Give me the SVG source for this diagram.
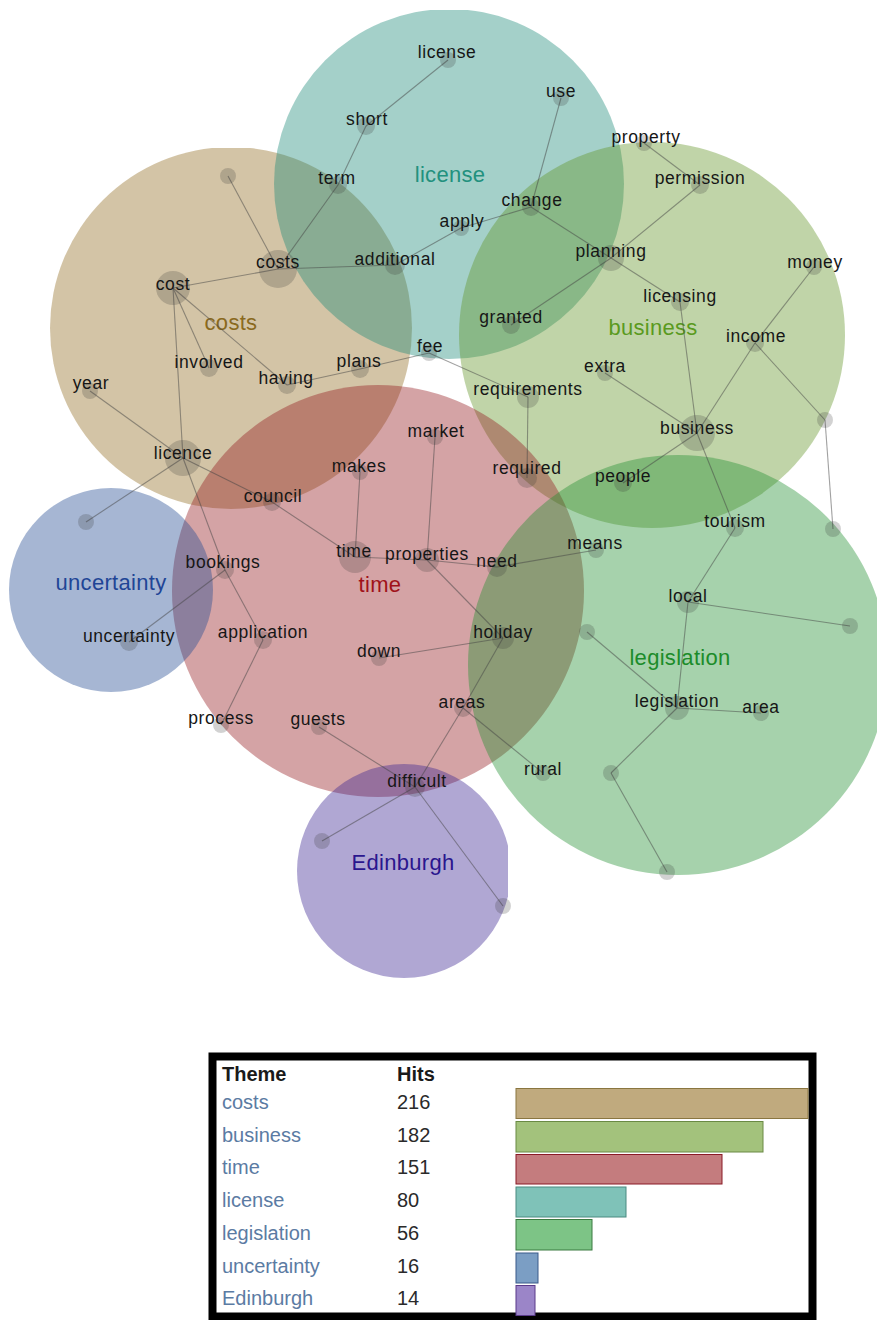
<svg xmlns="http://www.w3.org/2000/svg" width="877" height="1320" viewBox="0 0 877 1320">
<style>
.th{opacity:0.4}
.nd{fill:#333;opacity:0.22}
.lb{font-family:"Liberation Sans",Arial,sans-serif;font-size:17.5px;letter-spacing:0.6px;fill:#161616;text-anchor:middle}
.tl{font-family:"Liberation Sans",Arial,sans-serif;font-size:22px;letter-spacing:0.3px;text-anchor:middle}
#edges line{stroke:#444;stroke-opacity:0.5;stroke-width:1.1}
.tt{font-family:"Liberation Sans",Arial,sans-serif;font-size:20px;fill:#5b7ba3}
.tn{font-family:"Liberation Sans",Arial,sans-serif;font-size:20px;fill:#2a2a2a}
.th2{font-family:"Liberation Sans",Arial,sans-serif;font-size:20px;font-weight:bold;fill:#1a1a1a}
</style>
<defs>
<clipPath id="clipCosts"><rect x="0" y="148" width="877" height="500"/></clipPath>
<clipPath id="clipLic"><rect x="0" y="10" width="877" height="500"/></clipPath>
<clipPath id="clipEdi"><rect x="0" y="600" width="508" height="500"/></clipPath>
</defs>
<rect width="877" height="1320" fill="#fff"/>
<g id="themes">
<circle class="th" cx="231" cy="328" r="181" fill="#916c21" clip-path="url(#clipCosts)"/>
<circle class="th" cx="449" cy="184" r="175" fill="#1c8a78" clip-path="url(#clipLic)"/>
<circle class="th" cx="652" cy="335" r="193" fill="#629426"/>
<circle class="th" cx="378" cy="591" r="206" fill="#94191e"/>
<circle class="th" cx="111" cy="590" r="102" fill="#214991"/>
<circle class="th" cx="678" cy="665" r="210" fill="#218f30"/>
<circle class="th" cx="404" cy="871" r="107" fill="#3a2391" clip-path="url(#clipEdi)"/>
</g>
<g id="theme-labels">
<text class="tl" x="450" y="182" fill="#22917e">license</text>
<text class="tl" x="231" y="330" fill="#8a6a1e">costs</text>
<text class="tl" x="653" y="335" fill="#5a9a1e">business</text>
<text class="tl" x="380" y="592" fill="#a0121a">time</text>
<text class="tl" x="111" y="590" fill="#1f4596">uncertainty</text>
<text class="tl" x="680" y="665" fill="#1c8c2a">legislation</text>
<text class="tl" x="403" y="870" fill="#2a168e">Edinburgh</text>
</g>
<g id="edges">
<line x1="448" y1="60" x2="366" y2="126"/>
<line x1="366" y1="126" x2="338" y2="185"/>
<line x1="338" y1="185" x2="278" y2="269"/>
<line x1="228" y1="176" x2="278" y2="269"/>
<line x1="278" y1="269" x2="173" y2="288"/>
<line x1="278" y1="269" x2="395" y2="265"/>
<line x1="395" y1="265" x2="461" y2="228"/>
<line x1="461" y1="228" x2="531" y2="207"/>
<line x1="561" y1="98" x2="531" y2="207"/>
<line x1="531" y1="207" x2="611" y2="258"/>
<line x1="611" y1="258" x2="700" y2="185"/>
<line x1="644" y1="143" x2="700" y2="185"/>
<line x1="611" y1="258" x2="511" y2="325"/>
<line x1="611" y1="258" x2="680" y2="302"/>
<line x1="680" y1="302" x2="697" y2="433"/>
<line x1="814" y1="267" x2="755" y2="343"/>
<line x1="755" y1="343" x2="697" y2="433"/>
<line x1="755" y1="343" x2="825" y2="420"/>
<line x1="825" y1="420" x2="833" y2="529"/>
<line x1="605" y1="373" x2="697" y2="433"/>
<line x1="697" y1="433" x2="623" y2="483"/>
<line x1="697" y1="433" x2="735" y2="528"/>
<line x1="735" y1="528" x2="688" y2="602"/>
<line x1="688" y1="602" x2="850" y2="626"/>
<line x1="688" y1="602" x2="677" y2="708"/>
<line x1="587" y1="632" x2="677" y2="708"/>
<line x1="677" y1="708" x2="761" y2="713"/>
<line x1="677" y1="708" x2="611" y2="773"/>
<line x1="611" y1="773" x2="667" y2="872"/>
<line x1="287" y1="385" x2="360" y2="369"/>
<line x1="360" y1="369" x2="429" y2="353"/>
<line x1="429" y1="353" x2="528" y2="397"/>
<line x1="528" y1="397" x2="527" y2="478"/>
<line x1="173" y1="288" x2="209" y2="368"/>
<line x1="173" y1="288" x2="287" y2="385"/>
<line x1="173" y1="288" x2="183" y2="458"/>
<line x1="90" y1="391" x2="183" y2="458"/>
<line x1="183" y1="458" x2="86" y2="522"/>
<line x1="183" y1="458" x2="272" y2="502"/>
<line x1="272" y1="502" x2="355" y2="557"/>
<line x1="183" y1="458" x2="225" y2="570"/>
<line x1="225" y1="570" x2="263" y2="640"/>
<line x1="225" y1="570" x2="129" y2="642"/>
<line x1="263" y1="640" x2="221" y2="725"/>
<line x1="360" y1="472" x2="355" y2="557"/>
<line x1="435" y1="437" x2="427" y2="560"/>
<line x1="355" y1="557" x2="427" y2="560"/>
<line x1="427" y1="560" x2="497" y2="567"/>
<line x1="497" y1="567" x2="596" y2="550"/>
<line x1="427" y1="560" x2="503" y2="638"/>
<line x1="503" y1="638" x2="379" y2="658"/>
<line x1="503" y1="638" x2="463" y2="708"/>
<line x1="463" y1="708" x2="543" y2="773"/>
<line x1="463" y1="708" x2="415" y2="787"/>
<line x1="319" y1="727" x2="415" y2="787"/>
<line x1="415" y1="787" x2="322" y2="841"/>
<line x1="415" y1="787" x2="503" y2="906"/>
</g>
<g id="nodes">
<g id="n-license"><circle class="nd" cx="448" cy="60" r="8"/><text class="lb" x="447" y="58">license</text></g>
<g id="n-short"><circle class="nd" cx="366" cy="126" r="9"/><text class="lb" x="367" y="125">short</text></g>
<g id="n-use"><circle class="nd" cx="561" cy="98" r="8"/><text class="lb" x="561" y="97">use</text></g>
<g id="n-term"><circle class="nd" cx="338" cy="185" r="9"/><text class="lb" x="337" y="184">term</text></g>
<g id="n-property"><circle class="nd" cx="644" cy="143" r="8"/><text class="lb" x="646" y="143">property</text></g>
<g id="n-permission"><circle class="nd" cx="700" cy="185" r="9"/><text class="lb" x="700" y="184">permission</text></g>
<g id="n-change"><circle class="nd" cx="531" cy="207" r="9"/><text class="lb" x="532" y="206">change</text></g>
<g id="n-apply"><circle class="nd" cx="461" cy="228" r="8"/><text class="lb" x="462" y="227">apply</text></g>
<g id="n-planning"><circle class="nd" cx="611" cy="258" r="13"/><text class="lb" x="611" y="257">planning</text></g>
<g id="n-costs"><circle class="nd" cx="278" cy="269" r="19"/><text class="lb" x="278" y="268">costs</text></g>
<g id="n-additional"><circle class="nd" cx="395" cy="265" r="10"/><text class="lb" x="395" y="265">additional</text></g>
<g id="n-money"><circle class="nd" cx="814" cy="267" r="8"/><text class="lb" x="815" y="268">money</text></g>
<g id="n-cost"><circle class="nd" cx="173" cy="288" r="17"/><text class="lb" x="173" y="290">cost</text></g>
<g id="n-licensing"><circle class="nd" cx="680" cy="302" r="9"/><text class="lb" x="680" y="302">licensing</text></g>
<g id="n-granted"><circle class="nd" cx="511" cy="325" r="9"/><text class="lb" x="511" y="323">granted</text></g>
<g id="n-fee"><circle class="nd" cx="429" cy="353" r="8"/><text class="lb" x="430" y="352">fee</text></g>
<g id="n-income"><circle class="nd" cx="755" cy="343" r="9"/><text class="lb" x="756" y="342">income</text></g>
<g id="n-plans"><circle class="nd" cx="360" cy="369" r="9"/><text class="lb" x="359" y="367">plans</text></g>
<g id="n-involved"><circle class="nd" cx="209" cy="368" r="9"/><text class="lb" x="209" y="368">involved</text></g>
<g id="n-extra"><circle class="nd" cx="605" cy="373" r="8"/><text class="lb" x="605" y="372">extra</text></g>
<g id="n-having"><circle class="nd" cx="287" cy="385" r="9"/><text class="lb" x="286" y="384">having</text></g>
<g id="n-year"><circle class="nd" cx="90" cy="391" r="8"/><text class="lb" x="91" y="389">year</text></g>
<g id="n-requirements"><circle class="nd" cx="528" cy="397" r="11"/><text class="lb" x="528" y="395">requirements</text></g>
<g id="n-business"><circle class="nd" cx="697" cy="433" r="18"/><text class="lb" x="697" y="434">business</text></g>
<g id="n-market"><circle class="nd" cx="435" cy="437" r="8"/><text class="lb" x="436" y="437">market</text></g>
<g id="n-u1"><circle class="nd" cx="228" cy="176" r="8"/></g>
<g id="n-u2"><circle class="nd" cx="825" cy="420" r="8"/></g>
<g id="n-licence"><circle class="nd" cx="183" cy="458" r="18"/><text class="lb" x="183" y="459">licence</text></g>
<g id="n-makes"><circle class="nd" cx="360" cy="472" r="8"/><text class="lb" x="359" y="472">makes</text></g>
<g id="n-required"><circle class="nd" cx="527" cy="478" r="10"/><text class="lb" x="527" y="474">required</text></g>
<g id="n-people"><circle class="nd" cx="623" cy="483" r="9"/><text class="lb" x="623" y="482">people</text></g>
<g id="n-council"><circle class="nd" cx="272" cy="502" r="9"/><text class="lb" x="273" y="502">council</text></g>
<g id="n-u3"><circle class="nd" cx="86" cy="522" r="8"/></g>
<g id="n-tourism"><circle class="nd" cx="735" cy="528" r="9"/><text class="lb" x="735" y="527">tourism</text></g>
<g id="n-u4"><circle class="nd" cx="833" cy="529" r="8"/></g>
<g id="n-means"><circle class="nd" cx="596" cy="550" r="8"/><text class="lb" x="595" y="549">means</text></g>
<g id="n-time"><circle class="nd" cx="355" cy="557" r="16"/><text class="lb" x="354" y="557">time</text></g>
<g id="n-properties"><circle class="nd" cx="427" cy="560" r="12"/><text class="lb" x="427" y="560">properties</text></g>
<g id="n-need"><circle class="nd" cx="497" cy="567" r="10"/><text class="lb" x="497" y="567">need</text></g>
<g id="n-bookings"><circle class="nd" cx="225" cy="570" r="9"/><text class="lb" x="223" y="568">bookings</text></g>
<g id="n-local"><circle class="nd" cx="688" cy="602" r="11"/><text class="lb" x="688" y="602">local</text></g>
<g id="n-u5"><circle class="nd" cx="587" cy="632" r="8"/></g>
<g id="n-u6"><circle class="nd" cx="850" cy="626" r="8"/></g>
<g id="n-holiday"><circle class="nd" cx="503" cy="638" r="11"/><text class="lb" x="503" y="638">holiday</text></g>
<g id="n-uncertainty"><circle class="nd" cx="129" cy="642" r="9"/><text class="lb" x="129" y="642">uncertainty</text></g>
<g id="n-application"><circle class="nd" cx="263" cy="640" r="9"/><text class="lb" x="263" y="638">application</text></g>
<g id="n-down"><circle class="nd" cx="379" cy="658" r="8"/><text class="lb" x="379" y="657">down</text></g>
<g id="n-legislation"><circle class="nd" cx="677" cy="708" r="12"/><text class="lb" x="677" y="707">legislation</text></g>
<g id="n-area"><circle class="nd" cx="761" cy="713" r="8"/><text class="lb" x="761" y="713">area</text></g>
<g id="n-areas"><circle class="nd" cx="463" cy="708" r="9"/><text class="lb" x="462" y="708">areas</text></g>
<g id="n-process"><circle class="nd" cx="221" cy="725" r="8"/><text class="lb" x="221" y="724">process</text></g>
<g id="n-guests"><circle class="nd" cx="319" cy="727" r="8"/><text class="lb" x="318" y="725">guests</text></g>
<g id="n-rural"><circle class="nd" cx="543" cy="773" r="8"/><text class="lb" x="543" y="775">rural</text></g>
<g id="n-u7"><circle class="nd" cx="611" cy="773" r="8"/></g>
<g id="n-difficult"><circle class="nd" cx="415" cy="787" r="10"/><text class="lb" x="417" y="787">difficult</text></g>
<g id="n-u8"><circle class="nd" cx="322" cy="841" r="8"/></g>
<g id="n-u9"><circle class="nd" cx="503" cy="906" r="8"/></g>
<g id="n-u10"><circle class="nd" cx="667" cy="872" r="8"/></g>
</g>
<g id="table">
<rect x="212.5" y="1056.5" width="600" height="260" fill="#fff" stroke="#000" stroke-width="8"/>
<text class="th2" x="222" y="1081">Theme</text>
<text class="th2" x="397" y="1081">Hits</text>
<text class="tt" x="222" y="1109">costs</text><text class="tn" x="397" y="1109">216</text>
<rect x="516" y="1088.5" width="292" height="30" fill="#c0aa7e" stroke="#8a7640"/>
<text class="tt" x="222" y="1141.5">business</text><text class="tn" x="397" y="1141.5">182</text>
<rect x="516" y="1121.5" width="247" height="30.5" fill="#a3c27c" stroke="#6a8a44"/>
<text class="tt" x="222" y="1174">time</text><text class="tn" x="397" y="1174">151</text>
<rect x="516" y="1154.5" width="206" height="29.5" fill="#c47c7e" stroke="#8a1a26"/>
<text class="tt" x="222" y="1207">license</text><text class="tn" x="397" y="1207">80</text>
<rect x="516" y="1187" width="110" height="30" fill="#7fc2b8" stroke="#4a8a80"/>
<text class="tt" x="222" y="1239.5">legislation</text><text class="tn" x="397" y="1239.5">56</text>
<rect x="516" y="1219.5" width="76" height="30.5" fill="#7dc486" stroke="#3a7a40"/>
<text class="tt" x="222" y="1272.5">uncertainty</text><text class="tn" x="397" y="1272.5">16</text>
<rect x="516" y="1253" width="22" height="30" fill="#7b9ec4" stroke="#3a5a8a"/>
<text class="tt" x="222" y="1305">Edinburgh</text><text class="tn" x="397" y="1305">14</text>
<rect x="516" y="1285.5" width="19" height="30" fill="#9b85c8" stroke="#5a3a8a"/>
</g>
</svg>
